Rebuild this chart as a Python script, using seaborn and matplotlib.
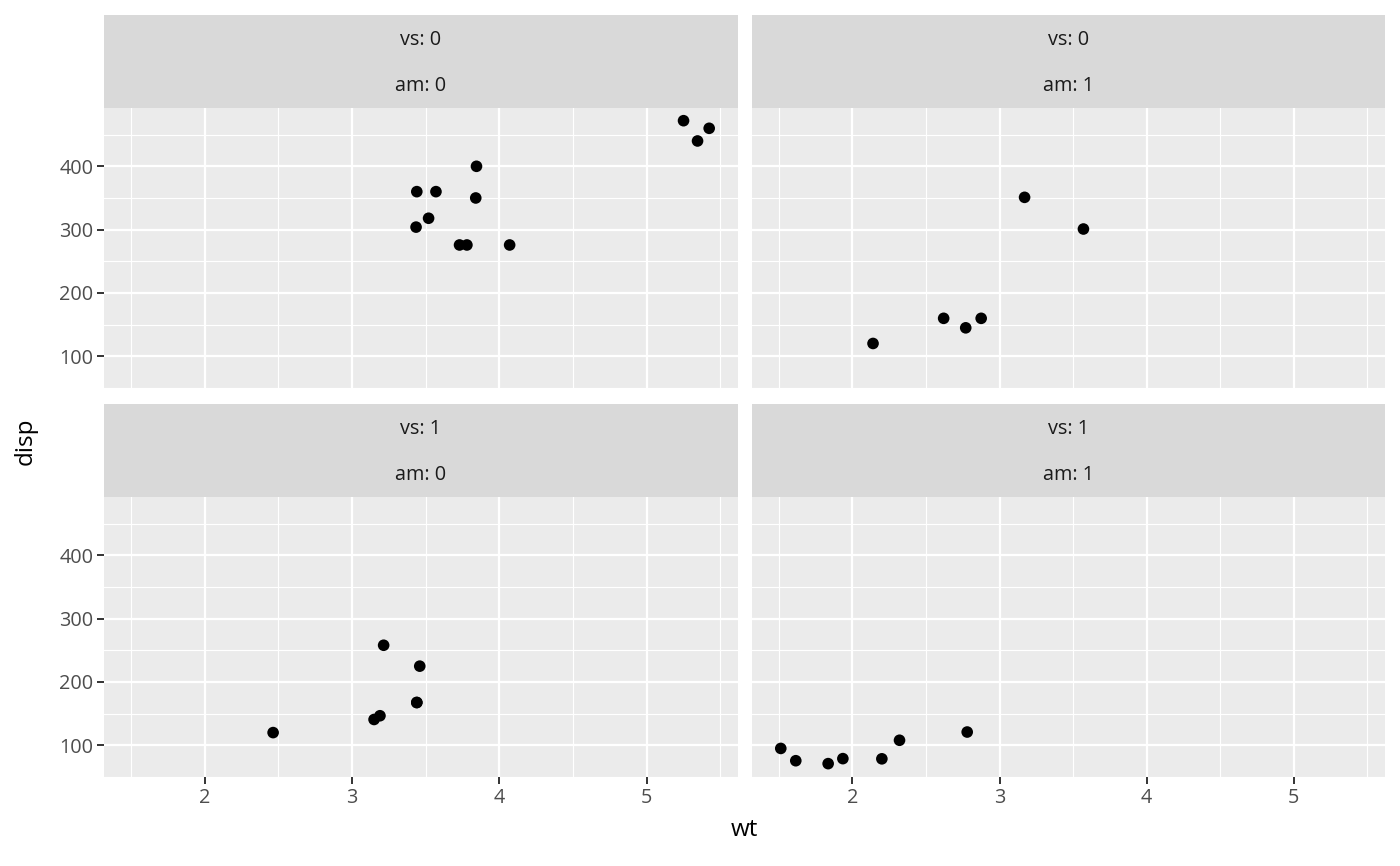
import numpy as np
import pandas as pd
import matplotlib
matplotlib.use("Agg")
import matplotlib.pyplot as plt
import seaborn as sns

# mtcars subset
wt = [2.620, 2.875, 2.320, 3.215, 3.440, 3.460, 3.570, 3.190, 3.150, 3.440, 3.440,
      4.070, 3.730, 3.780, 5.250, 5.424, 5.345, 2.200, 1.615, 1.835, 2.465, 3.520,
      3.435, 3.840, 3.845, 1.935, 2.140, 1.513, 3.170, 2.770, 3.570, 2.780]
disp = [160, 160, 108, 258, 360, 225, 360, 146.7, 140.8, 167.6, 167.6,
        275.8, 275.8, 275.8, 472, 460, 440, 78.7, 75.7, 71.1, 120.1, 318,
        304, 350, 400, 79, 120.3, 95.1, 351, 145, 301, 121]
vs = [0, 0, 1, 1, 0, 1, 0, 1, 1, 1, 1, 0, 0, 0, 0, 0, 0, 1, 1, 1, 1, 0,
      0, 0, 0, 1, 0, 1, 0, 0, 0, 1]
am = [1, 1, 1, 0, 0, 0, 0, 0, 0, 0, 0, 0, 0, 0, 0, 0, 0, 1, 1, 1, 0, 0,
      0, 0, 0, 1, 1, 1, 1, 1, 1, 1]
x_ticks = [2, 3, 4, 5]
y_ticks = [100, 200, 300, 400]

df = pd.DataFrame({"wt": wt, "disp": disp, "vs": vs, "am": am})

plt.rcParams['font.family'] = ['Open Sans', 'DejaVu Sans']

W, H = 1400, 866
fig = plt.figure(figsize=(W / 100, H / 100), dpi=100)

cols = [(104, 738), (752, 1385)]
rows = [(15, 108, 388), (404, 497, 777)]

xmin, xmax = min(wt), max(wt)
ymin, ymax = min(disp), max(disp)
xpad = (xmax - xmin) * 0.05
ypad = (ymax - ymin) * 0.05
xlim = (xmin - xpad, xmax + xpad)
ylim = (ymin - ypad, ymax + ypad)

tick_col = "#4d4d4d"
text_col = "#1a1a1a"

def frac(x0, y0, x1, y1):
    return [x0 / W, 1 - y1 / H, (x1 - x0) / W, (y1 - y0) / H]

for ri, vsv in enumerate([0, 1]):
    st, sb, pb = rows[ri]
    for ci, amv in enumerate([0, 1]):
        x0, x1 = cols[ci]
        # strip
        sax = fig.add_axes(frac(x0, st, x1, sb))
        sax.set_facecolor("#d9d9d9")
        sax.set_xticks([]); sax.set_yticks([])
        for s in sax.spines.values():
            s.set_visible(False)
        sax.text(0.5, 0.73, f"vs: {vsv}", ha="center", va="center",
                 fontsize=14.3, color=text_col, transform=sax.transAxes)
        sax.text(0.5, 0.24, f"am: {amv}", ha="center", va="center",
                 fontsize=14.3, color=text_col, transform=sax.transAxes)
        # panel
        ax = fig.add_axes(frac(x0, sb, x1, pb))
        ax.set_facecolor("#ebebeb")
        sub = df[(df.vs == vsv) & (df.am == amv)]
        sns.scatterplot(data=sub, x="wt", y="disp", ax=ax, color="black",
                        s=70, edgecolor="none", linewidth=0, zorder=3)
        ax.set_xlim(xlim); ax.set_ylim(ylim)
        ax.set_xticks(x_ticks)
        ax.set_yticks(y_ticks)
        ax.set_xticks([1.5, 2.5, 3.5, 4.5, 5.5], minor=True)
        ax.set_yticks([50, 150, 250, 350, 450], minor=True)
        ax.grid(True, which="major", color="white", linewidth=1.6, zorder=0)
        ax.grid(True, which="minor", color="white", linewidth=0.8, zorder=0)
        ax.set_axisbelow(True)
        for s in ax.spines.values():
            s.set_visible(False)
        ax.tick_params(which="minor", length=0)
        ax.tick_params(which="major", length=5.2, width=1.4, color="#333333",
                       labelsize=14.3, labelcolor=tick_col, pad=2.5)
        ax.set_xlabel(""); ax.set_ylabel("")
        if ci == 1:
            ax.tick_params(axis="y", length=0, labelleft=False)
        if ri == 0:
            ax.tick_params(axis="x", length=0, labelbottom=False)

fig.text((104 + 1385) / 2 / W, 1 - 830 / H, "wt", ha="center", va="center",
         fontsize=17.5, color="black")
fig.text(26 / W, 1 - 441 / H, "disp", ha="center", va="center",
         rotation=90, fontsize=17.5, color="black")

fig.savefig("out.png", dpi=100, facecolor="white")
